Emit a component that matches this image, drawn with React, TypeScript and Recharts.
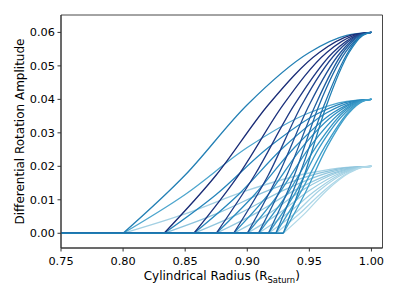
import { LineChart, Line, XAxis, YAxis, ReferenceArea, Label } from "recharts"

// axis ticks
const radiusTicks = [0.75, 0.8, 0.85, 0.9, 0.95, 1.0]
const amplitudeTicks = [0, 0.01, 0.02, 0.03, 0.04, 0.05, 0.06]

// radii of the sample points on each curve (one row per onset radius)
const curveRadii: number[][] = [
    [0.8, 0.85, 0.9, 0.95, 0.98, 1.0],
    [0.833, 0.875, 0.917, 0.958, 0.983, 1.0],
    [0.857, 0.893, 0.929, 0.964, 0.986, 1.0],
    [0.875, 0.906, 0.938, 0.969, 0.988, 1.0],
    [0.889, 0.917, 0.944, 0.972, 0.989, 1.0],
    [0.9, 0.925, 0.95, 0.975, 0.99, 1.0],
    [0.909, 0.932, 0.955, 0.977, 0.991, 1.0],
    [0.917, 0.938, 0.958, 0.979, 0.992, 1.0],
    [0.923, 0.942, 0.962, 0.981, 0.992, 1.0],
    [0.929, 0.946, 0.964, 0.982, 0.993, 1.0],
]

// amplitude read at those sample points, per family
const amp02 = [0, 0.0058, 0.0128, 0.018, 0.0197, 0.02]
const amp04 = [0, 0.0116, 0.0256, 0.036, 0.0394, 0.04]
const amp06 = [0, 0.0174, 0.0384, 0.054, 0.0591, 0.06]

const colors02 = ["#a3d0e3", "#8cc3dc", "#90c6dd", "#94c8df", "#98cbe0", "#9dcee2", "#a2d1e3", "#a7d3e5", "#acd6e7", "#b1d9e8"]
const colors04 = ["#4ea6ce", "#2685bb", "#2888bd", "#2b8bbf", "#2e8fc1", "#3292c3", "#3696c5", "#3a99c7", "#3e9dc9", "#42a0cb"]
const colors06 = ["#2480b5", "#1a2c76", "#1c317c", "#1e3883", "#1f438c", "#1f5096", "#1f5d9f", "#1f69a7", "#1f74ae", "#1f7fb4"]

const families = [
    { name: "a02", amps: amp02, colors: colors02 },
    { name: "a04", amps: amp04, colors: colors04 },
    { name: "a06", amps: amp06, colors: colors06 },
]

const series = families.flatMap((fam) =>
    curveRadii.map((radii, i) => ({
        id: `${fam.name}-${i}`,
        color: fam.colors[i],
        flat: [{ x: 0.75, y: 0 }, { x: radii[0], y: 0 }],
        rise: radii.map((x, k) => ({ x, y: fam.amps[k] })),
    }))
)

const font = "DejaVu Sans"

function XLabel(props: any) {
    const vb = props.viewBox
    const cx = vb.x + vb.width / 2
    return (
        <text x={cx} y={vb.y + 32} textAnchor="middle" fontFamily={font} fontSize={12} fill="#000">
            Cylindrical Radius (R
            <tspan fontSize={8.4} dy={3}>Saturn</tspan>
            <tspan dy={-3}>)</tspan>
        </text>
    )
}

function YLabel(props: any) {
    const vb = props.viewBox
    const cy = vb.y + vb.height / 2
    return (
        <text x={20} y={cy} transform={`rotate(-90, 20, ${cy})`} textAnchor="middle" dominantBaseline="central"
            fontFamily={font} fontSize={12} fill="#000">
            Differential Rotation Amplitude
        </text>
    )
}

export default function App() {
    return (
        <div style={{ position: "absolute", left: 0, top: 0, width: 399, height: 299, background: "#fff" }}>
            <LineChart width={399} height={299} margin={{ top: 15, right: 16.5, bottom: 0, left: 0 }}>
                <XAxis
                    type="number"
                    dataKey="x"
                    domain={[0.75, 1.0089]}
                    ticks={radiusTicks}
                    allowDataOverflow
                    height={51}
                    tickSize={3.5}
                    tickMargin={5}
                    stroke="#333"
                    tick={{ fill: "#000", fontSize: 11.3, fontFamily: font }}
                    tickFormatter={(v) => v.toFixed(2)}
                >
                    <Label content={<XLabel />} />
                </XAxis>
                <YAxis
                    type="number"
                    dataKey="y"
                    domain={[-0.0044, 0.0652]}
                    ticks={amplitudeTicks}
                    allowDataOverflow
                    width={61}
                    tickSize={3.5}
                    tickMargin={2.5}
                    stroke="#333"
                    tick={{ fill: "#000", fontSize: 11.3, fontFamily: font }}
                    tickFormatter={(v) => v.toFixed(2)}
                >
                    <Label content={<YLabel />} />
                </YAxis>
                {series.flatMap((s) => [
                    <Line key={`${s.id}-flat`} data={s.flat} dataKey="y" type="linear" stroke={s.color}
                        strokeWidth={1.3} dot={false} activeDot={false} isAnimationActive={false} />,
                    <Line key={`${s.id}-rise`} data={s.rise} dataKey="y" type="monotone" stroke={s.color}
                        strokeWidth={1.3} dot={false} activeDot={false} isAnimationActive={false} />,
                ])}
                <ReferenceArea x1={0.75} x2={1.0089} y1={-0.0044} y2={0.0652} fill="none" stroke="#333"
                    strokeWidth={0.9} ifOverflow="visible" />
            </LineChart>
        </div>
    )
}
